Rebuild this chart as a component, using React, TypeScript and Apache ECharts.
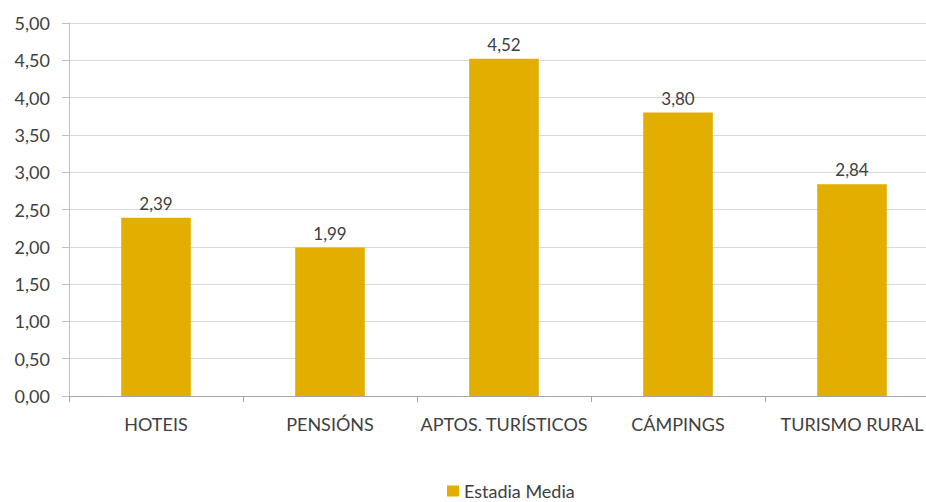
import React, { useEffect, useRef } from "react";
import * as echarts from "echarts";

const categories = ["HOTEIS", "PENSIÓNS", "APTOS. TURÍSTICOS", "CÁMPINGS", "TURISMO RURAL"];
const values = [2.39, 1.99, 4.52, 3.8, 2.84];
const seriesName = "Estadia Media";

const FONT = "Lato, 'Open Sans', sans-serif";
const TEXT = "#404040";

function fmt(v: number) {
  return v.toFixed(2).replace(".", ",");
}

export default function App() {
  const ref = useRef<HTMLDivElement>(null);
  useEffect(() => {
    document.body.style.margin = "0";
    const chart = echarts.init(ref.current!, undefined, { renderer: "svg" });
    chart.setOption({
      animation: false,
      backgroundColor: "#ffffff",
      grid: { left: 69, top: 23, right: 1, height: 373, containLabel: false },
      legend: {
        data: [seriesName],
        top: 480,
        left: 442,
        padding: [2, 5, 2, 5],
        itemWidth: 12,
        itemHeight: 11,
        itemGap: 5,
        icon: "rect",
        textStyle: { fontFamily: FONT, fontSize: 18, color: TEXT, lineHeight: 18 },
      },
      xAxis: {
        type: "category",
        data: categories,
        axisLine: { show: true, lineStyle: { color: "#A6A6A6", width: 1 } },
        axisTick: { show: true, alignWithLabel: false, length: 6, lineStyle: { color: "#A6A6A6" } },
        axisLabel: { fontFamily: FONT, fontSize: 18, color: TEXT, margin: 19, interval: 0 },
      },
      yAxis: {
        type: "value",
        min: 0,
        max: 5,
        interval: 0.5,
        axisLine: { show: true, lineStyle: { color: "#BFBFBF", width: 1 } },
        axisTick: { show: true, length: 7, inside: false, lineStyle: { color: "#BFBFBF" } },
        splitLine: { show: true, lineStyle: { color: "#D9D9D9", width: 1 } },
        axisLabel: {
          fontFamily: FONT,
          fontSize: 18,
          color: TEXT,
          margin: 19,
          formatter: (v: number) => fmt(v),
        },
      },
      series: [
        {
          name: seriesName,
          type: "bar",
          data: values,
          barWidth: "40%",
          itemStyle: { color: "#E2AE00" },
          label: {
            show: true,
            position: "top",
            distance: 6,
            fontFamily: FONT,
            fontSize: 17,
            color: TEXT,
            formatter: (p: any) => fmt(p.value),
          },
        },
      ],
    });
    return () => chart.dispose();
  }, []);
  return (
    <div style={{ width: 926, height: 502, overflow: "hidden", position: "relative" }}>
      <div ref={ref} style={{ width: 940, height: 502 }} />
    </div>
  );
}
